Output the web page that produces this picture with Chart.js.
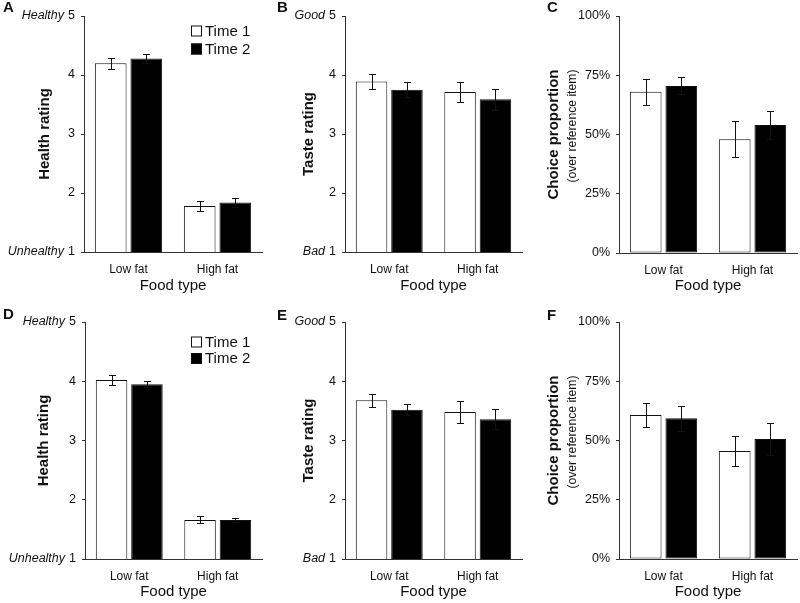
<!DOCTYPE html>
<html>
<head>
<meta charset="utf-8">
<title>Health, taste and choice by food type</title>
<script src="https://cdn.jsdelivr.net/npm/chart.js@4.4.1/dist/chart.umd.min.js"></script>
<style>
  html, body { margin: 0; padding: 0; background: #fff; }
  #wrap { position: relative; width: 800px; height: 603px; overflow: hidden; }
  #wrap canvas { position: absolute; }
</style>
</head>
<body>
<div id="wrap"></div>
<script>
/* ── Data ──────────────────────────────────────────────── */
const categories   = ['Low fat', 'High fat'];
const seriesLabels = ['Time 1', 'Time 2'];
const ratingTicks  = [1, 2, 3, 4, 5];
const choiceTicks  = [0, 25, 50, 75, 100];

// top row (A, B, C)
const healthT1A = [4.20, 1.78], healthT2A = [4.28, 1.84];
const healthErrT1A = [0.09, 0.09], healthErrT2A = [0.07, 0.07];
const tasteT1B = [3.89, 3.71], tasteT2B = [3.75, 3.59];
const tasteErrT1B = [0.13, 0.17], tasteErrT2B = [0.13, 0.18];
const choiceT1C = [68.0, 48.0], choiceT2C = [70.5, 54.0];
const choiceErrT1C = [5.4, 7.7], choiceErrT2C = [3.6, 6.0];

// bottom row (D, E, F)
const healthT1D = [4.02, 1.66], healthT2D = [3.95, 1.66];
const healthErrT1D = [0.08, 0.06], healthErrT2D = [0.05, 0.03];
const tasteT1E = [3.68, 3.48], tasteT2E = [3.52, 3.36];
const tasteErrT1E = [0.11, 0.19], tasteErrT2E = [0.09, 0.17];
const choiceT1F = [60.8, 45.6], choiceT2F = [59.4, 50.6];
const choiceErrT1F = [5.0, 6.4], choiceErrT2F = [5.3, 6.9];

/* ── Panel layout ──────────────────────────────────────── */
// box = canvas position on the page, area = plot area inside the canvas
const panels = [
  { letter: 'A', box: [0, 0, 267, 300],     area: [84, 16, 262, 252], titleX: 45,   letterAt: [3, 12],
    title: 'Health rating', ends: ['Healthy', 'Unhealthy'], ticks: ratingTicks, legend: [191, 31, 18],
    t1: healthT1A, t2: healthT2A, e1: healthErrT1A, e2: healthErrT2A },
  { letter: 'B', box: [267, 0, 263, 300],   area: [78, 16, 255, 252], titleX: 42,   letterAt: [10, 12],
    title: 'Taste rating', ends: ['Good', 'Bad'], ticks: ratingTicks,
    t1: tasteT1B, t2: tasteT2B, e1: tasteErrT1B, e2: tasteErrT2B },
  { letter: 'C', box: [530, 0, 270, 300],   area: [89, 16, 267, 253], titleX: 23.5, letterAt: [17, 12],
    title: 'Choice proportion', sub: '(over reference item)', subX: 43, ticks: choiceTicks, pct: true,
    t1: choiceT1C, t2: choiceT2C, e1: choiceErrT1C, e2: choiceErrT2C },
  { letter: 'D', box: [0, 300, 267, 303],   area: [85, 22, 262, 259], titleX: 44,   letterAt: [3, 19],
    title: 'Health rating', ends: ['Healthy', 'Unhealthy'], ticks: ratingTicks, legend: [191, 42, 16.5],
    t1: healthT1D, t2: healthT2D, e1: healthErrT1D, e2: healthErrT2D },
  { letter: 'E', box: [267, 300, 263, 303], area: [78, 22, 255, 259], titleX: 42,   letterAt: [10, 20],
    title: 'Taste rating', ends: ['Good', 'Bad'], ticks: ratingTicks,
    t1: tasteT1E, t2: tasteT2E, e1: tasteErrT1E, e2: tasteErrT2E },
  { letter: 'F', box: [530, 300, 270, 303], area: [89, 22, 267, 259], titleX: 23.5, letterAt: [17, 20],
    title: 'Choice proportion', sub: '(over reference item)', subX: 43, ticks: choiceTicks, pct: true,
    t1: choiceT1F, t2: choiceT2F, e1: choiceErrT1F, e2: choiceErrT2F }
];

const FONT = "'Liberation Sans', Arial, Helvetica, sans-serif";
const INK = '#111';
const AXIS = '#333';
Chart.defaults.font.family = FONT;
Chart.defaults.color = INK;

/* ── Extras: error bars, end words, subtitle, legend, letter ── */
const extras = {
  id: 'extras',
  afterDatasetsDraw(chart) {
    const ctx = chart.ctx, y = chart.scales.y;
    ctx.save();
    ctx.strokeStyle = INK;
    ctx.lineWidth = 1;
    chart.data.datasets.forEach((ds, i) => {
      chart.getDatasetMeta(i).data.forEach((bar, j) => {
        const v = ds.data[j], e = ds.errors[j];
        const x = Math.round(bar.x) + 0.5;
        const top = Math.round(y.getPixelForValue(v + e)) + 0.5;
        const bot = Math.round(y.getPixelForValue(v - e)) + 0.5;
        ctx.beginPath();
        ctx.moveTo(x, top); ctx.lineTo(x, bot);
        ctx.moveTo(x - 3.5, top); ctx.lineTo(x + 3.5, top);
        ctx.moveTo(x - 3.5, bot); ctx.lineTo(x + 3.5, bot);
        ctx.stroke();
      });
    });
    ctx.restore();
  },
  afterDraw(chart, args, opts) {
    const ctx = chart.ctx, y = chart.scales.y, area = chart.chartArea;
    ctx.save();
    ctx.fillStyle = INK;

    // panel letter
    ctx.font = 'bold 15px ' + FONT;
    ctx.textAlign = 'left';
    ctx.textBaseline = 'alphabetic';
    ctx.fillText(opts.letter, opts.letterAt[0], opts.letterAt[1]);

    // italic words in front of the end ticks
    if (opts.ends) {
      const labelRight = y.right - 3 - y.options.ticks.padding;
      [[y.max, opts.ends[0]], [y.min, opts.ends[1]]].forEach(([val, word]) => {
        ctx.font = '12.5px ' + FONT;
        const w = ctx.measureText(String(val)).width;
        ctx.font = 'italic 12.5px ' + FONT;
        ctx.textAlign = 'right';
        ctx.textBaseline = 'middle';
        ctx.fillText(word, labelRight - w - 4, y.getPixelForValue(val));
      });
    }

    // second line of the y title, lined up with the top end of the first
    if (opts.sub) {
      ctx.font = 'bold 15px ' + FONT;
      const mainLen = ctx.measureText(y.options.title.text).width;
      const endY = (area.top + area.bottom) / 2 - mainLen / 2;
      ctx.translate(opts.subX, endY);
      ctx.rotate(-Math.PI / 2);
      ctx.font = '12.2px ' + FONT;
      ctx.textAlign = 'right';
      ctx.textBaseline = 'middle';
      ctx.fillText(opts.sub, 0, 0);
      ctx.setTransform(1, 0, 0, 1, 0, 0);
    }

    // legend
    if (opts.legend) {
      const [lx, ly, step] = opts.legend;
      ctx.font = '15px ' + FONT;
      ctx.textAlign = 'left';
      ctx.textBaseline = 'middle';
      chart.data.datasets.forEach((ds, i) => {
        const cy = ly + i * step;
        ctx.fillStyle = ds.backgroundColor;
        ctx.fillRect(lx, cy - 5.5, 11, 11);
        ctx.strokeStyle = INK;
        ctx.lineWidth = 1;
        ctx.strokeRect(lx + 0.5, cy - 5, 10, 10);
        ctx.fillStyle = INK;
        ctx.fillText(ds.label, lx + 14, cy + 0.5);
      });
    }
    ctx.restore();
  }
};

/* ── Build one panel ───────────────────────────────────── */
function buildPanel(p) {
  const [bx, by, bw, bh] = p.box;
  const [aL, aT, aR, aB] = p.area;
  const canvas = document.createElement('canvas');
  canvas.width = bw; canvas.height = bh;
  canvas.style.left = bx + 'px'; canvas.style.top = by + 'px';
  canvas.style.width = bw + 'px'; canvas.style.height = bh + 'px';
  document.getElementById('wrap').appendChild(canvas);

  const step = p.ticks[1] - p.ticks[0];
  const bottomRow = by > 0;

  new Chart(canvas, {
    type: 'bar',
    data: {
      labels: categories,
      datasets: [
        { label: seriesLabels[0], data: p.t1, errors: p.e1, backgroundColor: '#fff', borderColor: INK },
        { label: seriesLabels[1], data: p.t2, errors: p.e2, backgroundColor: '#000', borderColor: INK }
      ]
    },
    options: {
      responsive: false,
      animation: false,
      events: [],
      layout: { padding: { left: 0, top: aT, right: bw - aR, bottom: 0 } },
      datasets: { bar: { borderWidth: 1, borderSkipped: false, categoryPercentage: 0.8, barPercentage: 0.89 } },
      plugins: {
        legend: { display: false },
        tooltip: { enabled: false },
        extras: {
          letter: p.letter, letterAt: p.letterAt, ends: p.ends,
          sub: p.sub, subX: p.subX, legend: p.legend
        }
      },
      scales: {
        x: {
          grid: { display: false, drawTicks: false, tickLength: 0 },
          border: { display: true, color: AXIS, width: 1 },
          ticks: { font: { size: 12 }, color: INK, padding: 10 },
          title: { display: true, text: 'Food type', font: { size: 15 }, color: INK,
                   padding: { top: 0, bottom: bottomRow ? 2 : 5 } },
          afterFit(s) { s.height = bh - aB; }
        },
        y: {
          min: p.ticks[0],
          max: p.ticks[p.ticks.length - 1],
          grid: { display: true, drawOnChartArea: false, drawTicks: true, tickLength: 3, color: AXIS },
          border: { display: true, color: AXIS, width: 1 },
          ticks: {
            stepSize: step, font: { size: 12.5 }, color: INK, padding: 6,
            callback: v => p.pct ? v + '%' : v
          },
          title: { display: true, text: p.title, font: { size: 15, weight: 'bold' }, color: INK,
                   padding: { top: p.titleX - 9, bottom: 0 } },
          afterFit(s) { s.width = aL; }
        }
      }
    },
    plugins: [extras]
  });
}

panels.forEach(buildPanel);
</script>
</body>
</html>
